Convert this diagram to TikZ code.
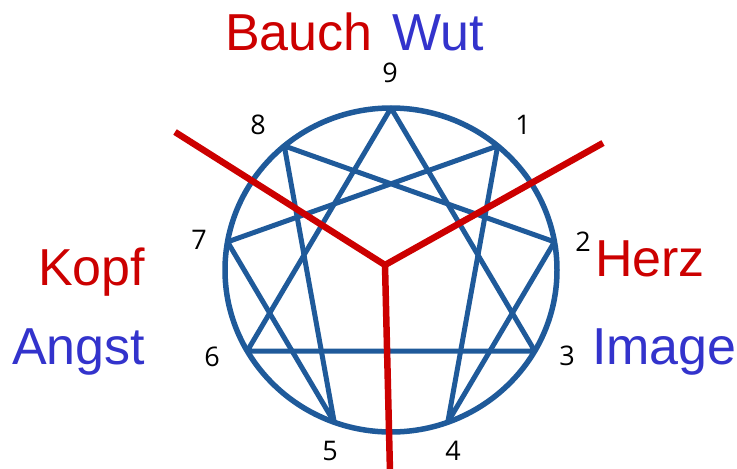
\documentclass[tikz,border=0pt]{standalone}
\usepackage{fontspec}
\setmainfont{Liberation Sans}
\newfontfamily\digitfont{Open Sans}
\usetikzlibrary{positioning}
\definecolor{Rot}{HTML}{CC0000}
\definecolor{Blau}{HTML}{3333CC}
\definecolor{Stern}{HTML}{1F5A9A}

\begin{document}
\begin{tikzpicture}[x=1pt, y=-1pt,
    ring/.style={draw=Stern, line width=5.5pt},
    star/.style={draw=Stern, line width=5pt, line join=round},
    zentrum/.style={draw=Rot, line width=6.5pt},
    zahl/.style={inner sep=0pt, font=\digitfont\fontsize{27}{27}\selectfont},
    wort/.style={inner sep=0pt, anchor=base west, font=\fontsize{52}{52}\selectfont}
]
\useasboundingbox (0,0) rectangle (737,469);

% Enneagramm
\coordinate (mitte) at (391,270);
\foreach \n in {1,...,9} {
  \coordinate (p\n) at ({391+166*cos(90-40*\n)}, {270-162*sin(90-40*\n)});
}
\draw[ring] (mitte) ellipse [x radius=166pt, y radius=162pt];
\draw[star] (p9) -- (p3) -- (p6) -- cycle;
\draw[star] (p1) -- (p4) -- (p2) -- (p8) -- (p5) -- (p7) -- cycle;

% Zahlen
\foreach \n/\x/\y in {1/523/125, 2/583/242, 3/567/356, 4/453/451, 5/330/451,
                      6/212/357, 7/199/240, 8/258/125, 9/390/73} {
  \node[zahl] (z\n) at (\x,\y) {\n};
}

% Zentren
\coordinate (gabel) at (385,265);
\coordinate (kopfende) at (175,132);
\coordinate (herzende) at (603,143);
\coordinate (fuss) at (390,472);
\draw[zentrum, line join=miter] (kopfende) -- (gabel) -- (herzende);
\draw[zentrum] (gabel) -- (fuss);

% Worte
\node[wort, text=Rot] (bauch) at (225,50) {Bauch};
\node[wort, text=Blau] (wut) at (392,50) {Wut};
\node[wort, text=Rot] (kopf) at (38,285) {Kopf};
\node[wort, text=Blau] (angst) at (12,364) {Angst};
\node[wort, text=Rot] (herz) at (595,276) {Herz};
\node[wort, text=Blau] (image) at (592,364) {Image};

\end{tikzpicture}
\end{document}
